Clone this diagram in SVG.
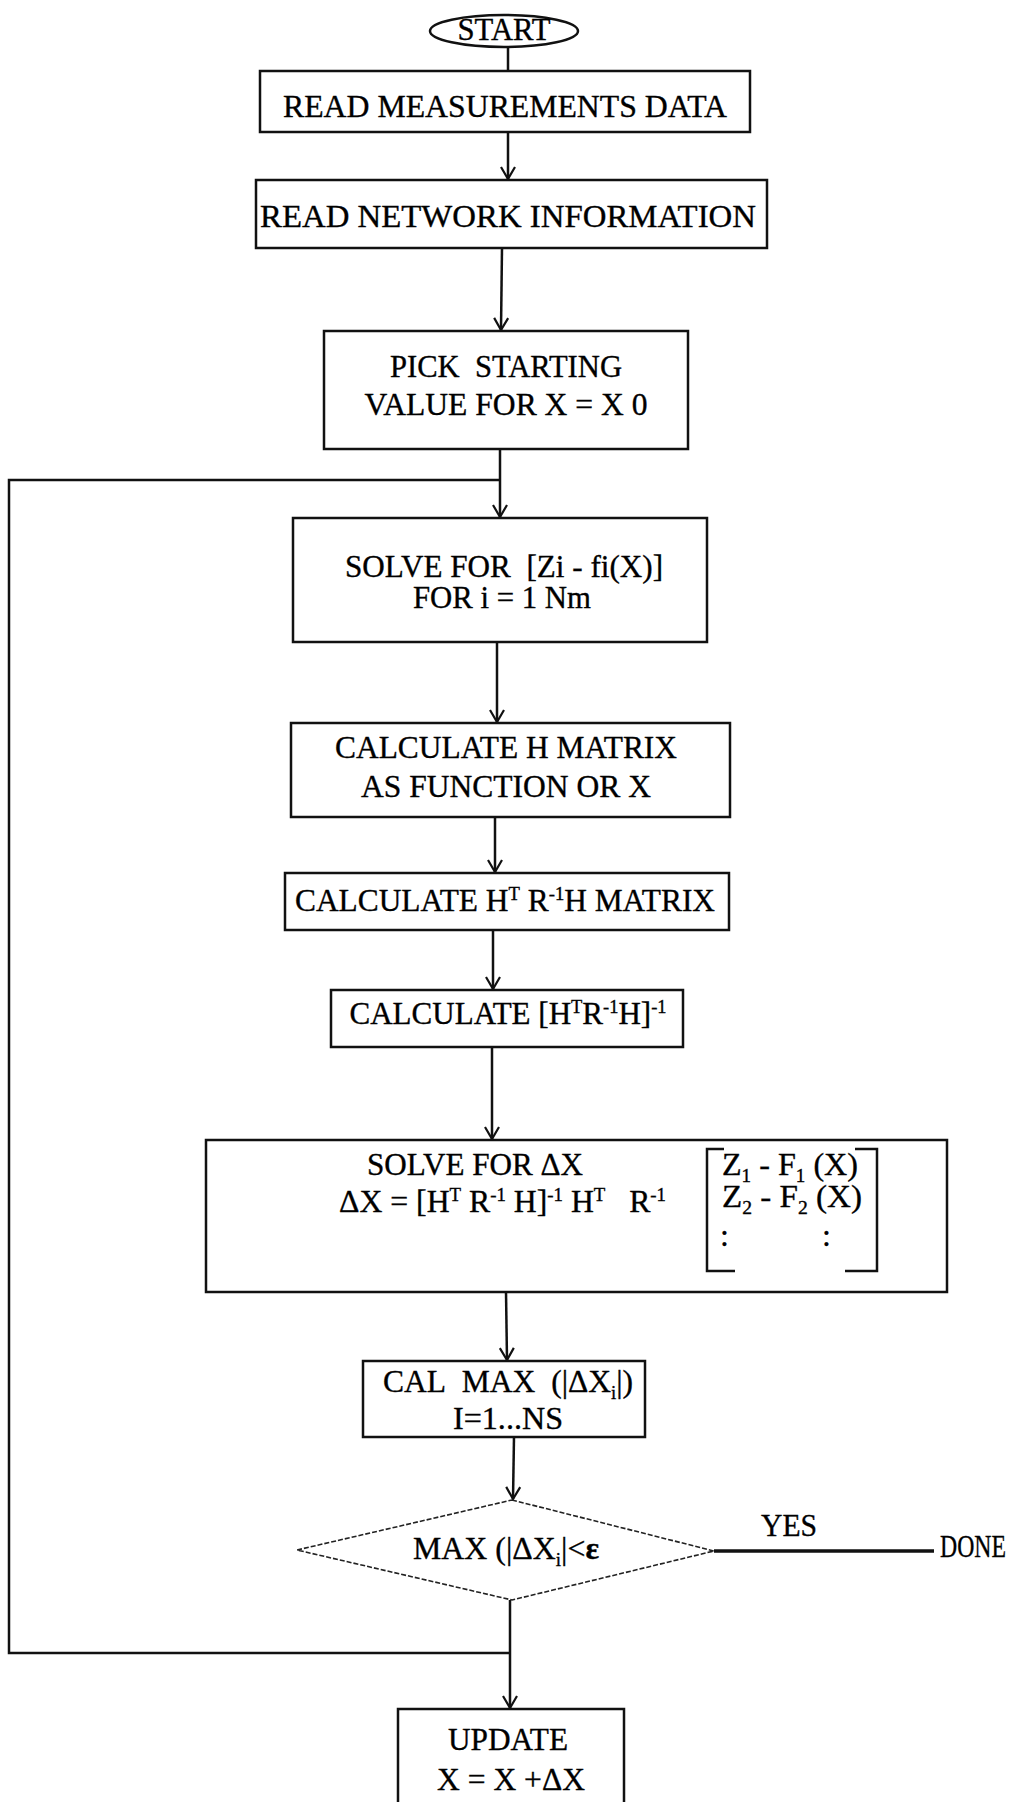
<svg xmlns="http://www.w3.org/2000/svg" width="1018" height="1802" viewBox="0 0 1018 1802">
<style>
.box{fill:#fff;stroke:#111;stroke-width:2.5}
.dec{fill:#fff;stroke:#222;stroke-width:1.6;stroke-dasharray:5 2}
.t{font-family:"Liberation Serif","Times New Roman",serif;font-size:32px;fill:#000;stroke:#000;stroke-width:0.35}
.c{text-anchor:middle}
.ln{stroke:#111;stroke-width:2.5;fill:none}
.thick{stroke:#111;stroke-width:3.5;fill:none}
</style>
<defs>
<marker id="arr" viewBox="-14 -9 16 18" refX="0" refY="0" markerWidth="16" markerHeight="18" orient="auto" markerUnits="userSpaceOnUse">
<path d="M-12,-7 L0,0 L-12,7" fill="none" stroke="#111" stroke-width="2.2"/>
</marker>
</defs>
<rect x="0" y="0" width="1018" height="1802" fill="#fff"/>

<g id="connectors">
<line class="ln" x1="508" y1="47" x2="508" y2="71"/>
<line class="ln" x1="508" y1="132" x2="508" y2="179" marker-end="url(#arr)"/>
<line class="ln" x1="502" y1="248" x2="501" y2="330" marker-end="url(#arr)"/>
<line class="ln" x1="500" y1="449" x2="500" y2="517" marker-end="url(#arr)"/>
<line class="ln" x1="497" y1="642" x2="497" y2="722" marker-end="url(#arr)"/>
<line class="ln" x1="495" y1="817" x2="495" y2="872" marker-end="url(#arr)"/>
<line class="ln" x1="493" y1="930" x2="493" y2="989" marker-end="url(#arr)"/>
<line class="ln" x1="492" y1="1047" x2="492" y2="1139" marker-end="url(#arr)"/>
<line class="ln" x1="506" y1="1292" x2="507" y2="1360" marker-end="url(#arr)"/>
<line class="ln" x1="514" y1="1437" x2="513" y2="1499" marker-end="url(#arr)"/>
<line class="thick" x1="714" y1="1551" x2="934" y2="1551"/>
<line class="ln" x1="510" y1="1600" x2="510" y2="1708" marker-end="url(#arr)"/>
<polyline class="ln" points="510,1653 9,1653 9,480 500,480"/>
</g>

<g id="start">
<ellipse cx="504" cy="31" rx="74" ry="16" class="box"/>
<text class="t c" x="504" y="40" font-size="30" textLength="93" lengthAdjust="spacingAndGlyphs">START</text>
</g>

<g id="read-measurements">
<rect class="box" x="260" y="71" width="490" height="61"/>
<text class="t c" x="505" y="117" font-size="34" textLength="444" lengthAdjust="spacingAndGlyphs">READ MEASUREMENTS DATA</text>
</g>

<g id="read-network">
<rect class="box" x="256" y="180" width="511" height="68"/>
<text class="t c" x="508" y="227" font-size="35" textLength="496" lengthAdjust="spacingAndGlyphs">READ NETWORK INFORMATION</text>
</g>

<g id="pick-start">
<rect class="box" x="324" y="331" width="364" height="118"/>
<text class="t c" x="506" y="377" textLength="232" lengthAdjust="spacingAndGlyphs">PICK&#160; STARTING</text>
<text class="t c" x="506" y="415" textLength="283" lengthAdjust="spacingAndGlyphs">VALUE FOR X = X 0</text>
</g>

<g id="solve-residual">
<rect class="box" x="293" y="518" width="414" height="124"/>
<text class="t c" x="504" y="577" textLength="318" lengthAdjust="spacingAndGlyphs">SOLVE FOR&#160; [Zi - fi(X)]</text>
<text class="t c" x="502" y="608" textLength="178" lengthAdjust="spacingAndGlyphs">FOR i = 1 Nm</text>
</g>

<g id="calc-h">
<rect class="box" x="291" y="723" width="439" height="94"/>
<text class="t c" x="506" y="758" textLength="342" lengthAdjust="spacingAndGlyphs">CALCULATE H MATRIX</text>
<text class="t c" x="506" y="797" textLength="290" lengthAdjust="spacingAndGlyphs">AS FUNCTION OR X</text>
</g>

<g id="calc-htrh">
<rect class="box" x="285" y="873" width="444" height="57"/>
<text class="t c" x="505" y="911" textLength="420" lengthAdjust="spacingAndGlyphs">CALCULATE H<tspan dy="-11" font-size="19">T</tspan><tspan dy="11"> R</tspan><tspan dy="-11" font-size="19">-1</tspan><tspan dy="11">H MATRIX</tspan></text>
</g>

<g id="calc-inverse">
<rect class="box" x="331" y="990" width="352" height="57"/>
<text class="t c" x="508" y="1024" textLength="317" lengthAdjust="spacingAndGlyphs">CALCULATE [H<tspan dy="-11" font-size="19">T</tspan><tspan dy="11">R</tspan><tspan dy="-11" font-size="19">-1</tspan><tspan dy="11">H]</tspan><tspan dy="-11" font-size="19">-1</tspan></text>
</g>

<g id="solve-dx">
<rect class="box" x="206" y="1140" width="741" height="152"/>
<text class="t" x="367" y="1175" textLength="216" lengthAdjust="spacingAndGlyphs">SOLVE FOR ΔX</text>
<text class="t" x="339" y="1212" textLength="327" lengthAdjust="spacingAndGlyphs">ΔX = [H<tspan dy="-11" font-size="19">T</tspan><tspan dy="11"> R</tspan><tspan dy="-11" font-size="19">-1</tspan><tspan dy="11"> H]</tspan><tspan dy="-11" font-size="19">-1</tspan><tspan dy="11"> H</tspan><tspan dy="-11" font-size="19">T</tspan><tspan dy="11">&#160;&#160; R</tspan><tspan dy="-11" font-size="19">-1</tspan></text>
<path class="ln" d="M724,1149 H707 V1271 H735"/>
<path class="ln" d="M855,1149 H877 V1271 H845"/>
<text class="t" x="722" y="1175" textLength="136" lengthAdjust="spacingAndGlyphs">Z<tspan dy="7" font-size="19">1</tspan><tspan dy="-7"> - F</tspan><tspan dy="7" font-size="19">1</tspan><tspan dy="-7"> (X)</tspan></text>
<text class="t" x="722" y="1207" textLength="140" lengthAdjust="spacingAndGlyphs">Z<tspan dy="7" font-size="19">2</tspan><tspan dy="-7"> - F</tspan><tspan dy="7" font-size="19">2</tspan><tspan dy="-7"> (X)</tspan></text>
<text class="t" x="720" y="1246">:</text>
<text class="t" x="822" y="1246">:</text>
</g>

<g id="cal-max">
<rect class="box" x="363" y="1361" width="282" height="76"/>
<text class="t" x="383" y="1392" textLength="250" lengthAdjust="spacingAndGlyphs">CAL&#160; MAX&#160; (|ΔX<tspan dy="7" font-size="19">i</tspan><tspan dy="-7">|)</tspan></text>
<text class="t c" x="508" y="1429" textLength="110" lengthAdjust="spacingAndGlyphs">I=1...NS</text>
</g>

<g id="decision">
<polygon class="dec" points="512,1500 714,1551 512,1600 297,1550"/>
<text class="t" x="413" y="1559" font-size="32" textLength="186" lengthAdjust="spacingAndGlyphs">MAX (|ΔX<tspan dy="7" font-size="19">i</tspan><tspan dy="-7">|&lt;</tspan><tspan font-weight="bold">ε</tspan></text>
<text class="t c" x="789" y="1536" font-size="31" textLength="56" lengthAdjust="spacingAndGlyphs">YES</text>
</g>

<g id="done">
<text class="t" x="940" y="1557" font-size="27" textLength="66" lengthAdjust="spacingAndGlyphs">DONE</text>
</g>

<g id="update">
<rect class="box" x="398" y="1709" width="226" height="100"/>
<text class="t c" x="508" y="1750" textLength="120" lengthAdjust="spacingAndGlyphs">UPDATE</text>
<text class="t c" x="511" y="1790" textLength="148" lengthAdjust="spacingAndGlyphs">X = X +ΔX</text>
</g>
</svg>
